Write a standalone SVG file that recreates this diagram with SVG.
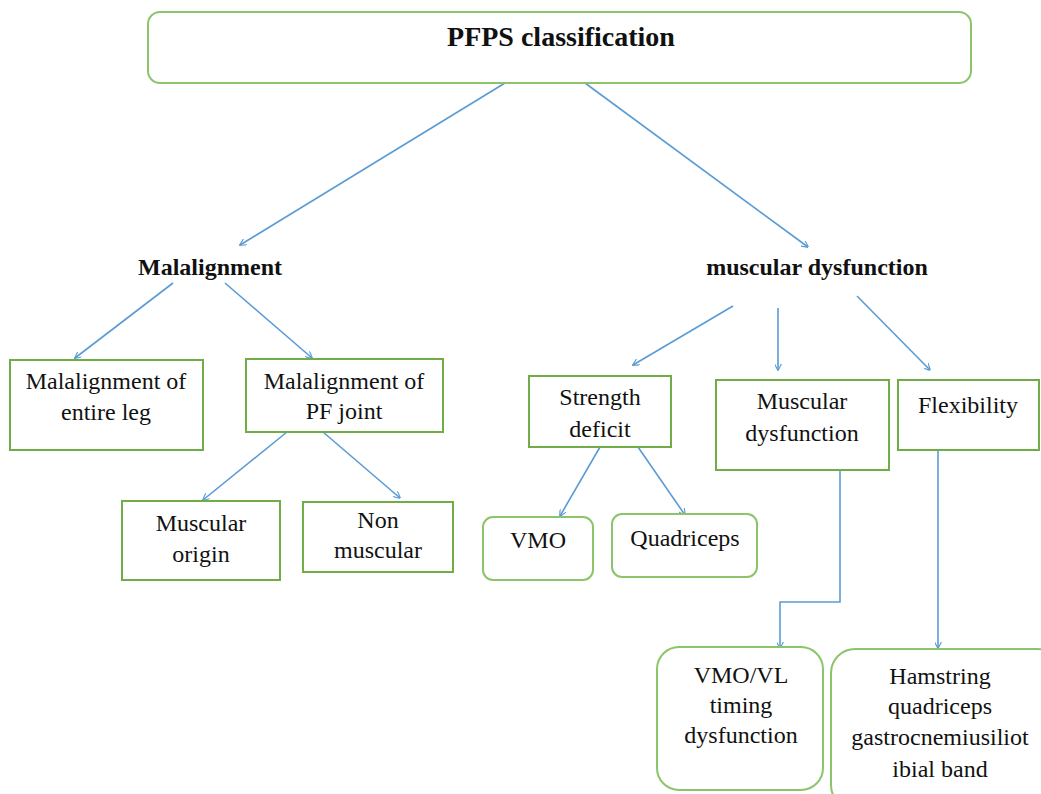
<svg xmlns="http://www.w3.org/2000/svg" width="1041" height="794" viewBox="0 0 1041 794">
<style>
.bx{fill:#fff;stroke:#70AD47;stroke-width:2}
.rb{fill:#fff;stroke:#8CC46A;stroke-width:2}
.t{font-family:"Liberation Serif","Times New Roman",serif;font-size:24px;fill:#111;text-anchor:middle}
.b{font-family:"Liberation Serif","Times New Roman",serif;font-size:24px;font-weight:bold;fill:#111;text-anchor:middle}
.c{fill:none;stroke:#5B9BD5;stroke-width:1.6;marker-end:url(#ah)}
</style>
<defs>
<marker id="ah" viewBox="0 0 10 10" refX="9" refY="5" markerWidth="7" markerHeight="7" orient="auto" markerUnits="userSpaceOnUse">
<path d="M0,0 L10,5 L0,10" fill="none" stroke="#5B9BD5" stroke-width="1.6"/>
</marker>
</defs>
<rect width="1041" height="794" fill="#fff"/>
<g id="connectors">
<line class="c" x1="505" y1="83" x2="240" y2="245"/>
<line class="c" x1="585" y1="83" x2="808" y2="247"/>
<line class="c" x1="173" y1="283" x2="75" y2="358"/>
<line class="c" x1="225" y1="283" x2="312" y2="358"/>
<line class="c" x1="287" y1="432" x2="203" y2="500"/>
<line class="c" x1="323" y1="432" x2="400" y2="498"/>
<line class="c" x1="733" y1="306" x2="633" y2="365"/>
<line class="c" x1="778" y1="308" x2="778" y2="370"/>
<line class="c" x1="857" y1="296" x2="930" y2="370"/>
<line class="c" x1="600" y1="447" x2="560" y2="516"/>
<line class="c" x1="638" y1="447" x2="685" y2="515"/>
<polyline class="c" points="840,457 840,602 780,602 780,648"/>
<line class="c" x1="938" y1="450" x2="938" y2="648"/>
</g>
<g id="root"><rect class="rb" x="148" y="12" width="823" height="71" rx="12"/><text class="b" x="561" y="46" style="font-size:28px">PFPS classification</text></g>
<g id="malalignment"><text class="b" x="210" y="275">Malalignment</text></g>
<g id="muscular-dysfunction"><text class="b" x="817" y="275">muscular dysfunction</text></g>
<g id="entire-leg"><rect class="bx" x="10" y="360" width="193" height="90"/><text class="t" x="106" y="389">Malalignment of</text><text class="t" x="106" y="420">entire leg</text></g>
<g id="pf-joint"><rect class="bx" x="246" y="359" width="197" height="73"/><text class="t" x="344" y="389">Malalignment of</text><text class="t" x="344" y="419">PF joint</text></g>
<g id="muscular-origin"><rect class="bx" x="122" y="501" width="158" height="79"/><text class="t" x="201" y="531">Muscular</text><text class="t" x="201" y="562">origin</text></g>
<g id="non-muscular"><rect class="bx" x="303" y="502" width="150" height="70"/><text class="t" x="378" y="528">Non</text><text class="t" x="378" y="558">muscular</text></g>
<g id="strength-deficit"><rect class="bx" x="529" y="376" width="142" height="71"/><text class="t" x="600" y="405">Strength</text><text class="t" x="600" y="437">deficit</text></g>
<g id="muscular-dysfunction-box"><rect class="bx" x="716" y="380" width="173" height="90"/><text class="t" x="802" y="409">Muscular</text><text class="t" x="802" y="441">dysfunction</text></g>
<g id="flexibility"><rect class="bx" x="898" y="380" width="141" height="70"/><text class="t" x="968" y="413">Flexibility</text></g>
<g id="vmo"><rect class="rb" x="483" y="517" width="110" height="63" rx="10"/><text class="t" x="538" y="548">VMO</text></g>
<g id="quadriceps"><rect class="rb" x="612" y="514" width="145" height="63" rx="10"/><text class="t" x="685" y="546">Quadriceps</text></g>
<g id="vmo-vl"><rect class="rb" x="657" y="647" width="166" height="143" rx="22"/><text class="t" x="741" y="683">VMO/VL</text><text class="t" x="741" y="713">timing</text><text class="t" x="741" y="743">dysfunction</text></g>
<g id="hamstring"><rect class="rb" x="831" y="649" width="230" height="160" rx="24"/><text class="t" x="940" y="684">Hamstring</text><text class="t" x="940" y="714">quadriceps</text><text class="t" x="940" y="745">gastrocnemiusiliot</text><text class="t" x="940" y="777">ibial band</text></g>
</svg>
